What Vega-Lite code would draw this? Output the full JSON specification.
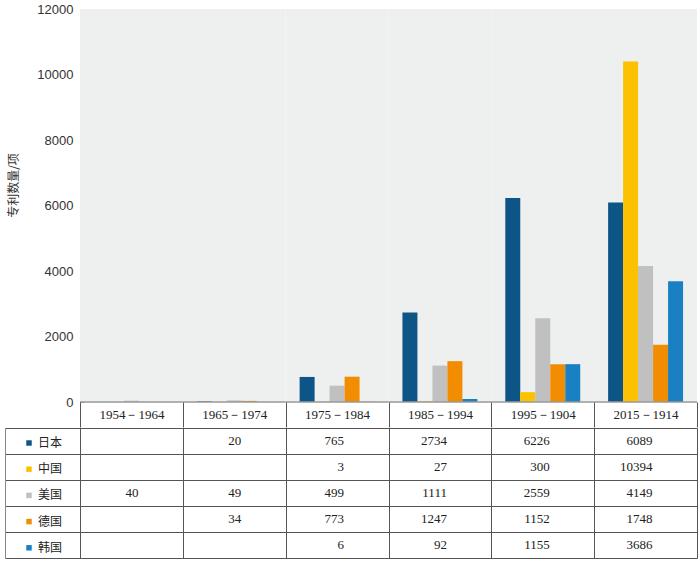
{
  "$schema": "https://vega.github.io/schema/vega-lite/v6.json",
  "padding": {"left": 5, "top": 3, "right": 5, "bottom": 5},
  "background": "white",
  "config": {"view": {"stroke": null}},
  "spacing": 0,
  "datasets": {
    "patents": [
      {"period": "1954－1964", "country": "美国", "value": 40},
      {"period": "1965－1974", "country": "日本", "value": 20},
      {"period": "1965－1974", "country": "美国", "value": 49},
      {"period": "1965－1974", "country": "德国", "value": 34},
      {"period": "1975－1984", "country": "日本", "value": 765},
      {"period": "1975－1984", "country": "中国", "value": 3},
      {"period": "1975－1984", "country": "美国", "value": 499},
      {"period": "1975－1984", "country": "德国", "value": 773},
      {"period": "1975－1984", "country": "韩国", "value": 6},
      {"period": "1985－1994", "country": "日本", "value": 2734},
      {"period": "1985－1994", "country": "中国", "value": 27},
      {"period": "1985－1994", "country": "美国", "value": 1111},
      {"period": "1985－1994", "country": "德国", "value": 1247},
      {"period": "1985－1994", "country": "韩国", "value": 92},
      {"period": "1995－1904", "country": "日本", "value": 6226},
      {"period": "1995－1904", "country": "中国", "value": 300},
      {"period": "1995－1904", "country": "美国", "value": 2559},
      {"period": "1995－1904", "country": "德国", "value": 1152},
      {"period": "1995－1904", "country": "韩国", "value": 1155},
      {"period": "2015－1914", "country": "日本", "value": 6089},
      {"period": "2015－1914", "country": "中国", "value": 10394},
      {"period": "2015－1914", "country": "美国", "value": 4149},
      {"period": "2015－1914", "country": "德国", "value": 1748},
      {"period": "2015－1914", "country": "韩国", "value": 3686}
    ]
  },
  "vconcat": [
    {
      "width": 692,
      "height": 393,
      "data": {"name": "patents"},
      "layer": [
        {
          "transform": [{"aggregate": [{"op": "count", "as": "n"}], "groupby": ["period"]}],
          "mark": {"type": "rect", "color": "#eef0ef"},
          "encoding": {
            "x": {"field": "period", "type": "nominal",
              "scale": {"domain": ["1954－1964", "1965－1974", "1975－1984", "1985－1994", "1995－1904", "2015－1914"], "paddingInner": 0, "paddingOuter": 0.36467, "align": 1},
              "axis": {"title": null, "domain": false, "ticks": true, "tickBand": "extent", "tickSize": 25, "tickColor": "#555", "tickWidth": 1, "labelAngle": 0, "labelPadding": -19, "labelFont": "Liberation Serif", "labelFontSize": 13, "labelColor": "#222"}},
            "y": {"datum": 0, "type": "quantitative"},
            "y2": {"datum": 12000}
          }
        },
        {
          "mark": {"type": "bar"},
          "encoding": {
            "x": {"field": "period", "type": "nominal"},
            "xOffset": {"field": "country", "type": "nominal",
              "scale": {"domain": ["日本", "中国", "美国", "德国", "韩国"], "paddingInner": 0, "paddingOuter": 0.93}},
            "y": {"field": "value", "type": "quantitative",
              "scale": {"domain": [0, 12000], "nice": false},
              "axis": {"title": "专利数量/项", "titleFont": "Noto Sans CJK SC", "titleFontSize": 12, "titleFontWeight": "normal", "titleColor": "#333", "titlePadding": 16, "titleY": 176,
                "offset": -75, "values": [0, 2000, 4000, 6000, 8000, 10000, 12000], "format": "d", "grid": false,
                "domainColor": "#666", "tickColor": "#888", "tickSize": -4, "labelPadding": 11,
                "labelFont": "Liberation Sans", "labelFontSize": 13, "labelColor": "#333"}},
            "color": {"field": "country", "type": "nominal",
              "scale": {"domain": ["日本", "中国", "美国", "德国", "韩国"], "range": ["#0d5587", "#fcc100", "#bfc0bf", "#f28c00", "#1a80c4"]},
              "legend": {"orient": "none", "legendX": 18, "legendY": 428, "title": null, "direction": "vertical",
                "symbolType": "square", "symbolSize": 30, "symbolStrokeWidth": 0, "labelOffset": 3,
                "labelFont": "Noto Sans CJK SC", "labelFontSize": 12, "labelColor": "#222", "rowPadding": 14.2}}
          }
        },
        {
          "transform": [{"aggregate": [{"op": "count", "as": "n"}], "groupby": ["period"]}],
          "mark": {"type": "rect", "fill": "transparent", "stroke": "#999", "strokeWidth": 1.5},
          "encoding": {
            "x": {"field": "period", "type": "nominal"},
            "y": {"datum": 0, "type": "quantitative"},
            "y2": {"datum": 0}
          }
        }
      ]
    },
    {
      "width": 692,
      "height": 130,
      "data": {"name": "patents"},
      "mark": {"type": "text", "font": "Liberation Serif", "fontSize": 13, "color": "#222", "align": "right", "dx": 7, "baseline": "middle"},
      "encoding": {
        "x": {"field": "period", "type": "nominal",
          "scale": {"domain": ["1954－1964", "1965－1974", "1975－1984", "1985－1994", "1995－1904", "2015－1914"], "paddingInner": 0, "paddingOuter": 0.36467, "align": 1},
          "axis": {"orient": "top", "title": null, "labels": false, "ticks": false, "domain": false, "grid": true, "tickBand": "extent", "gridColor": "#555", "gridWidth": 1}},
        "y": {"field": "country", "type": "nominal",
          "scale": {"domain": ["日本", "中国", "美国", "德国", "韩国"], "paddingInner": 0, "paddingOuter": 0},
          "axis": {"title": null, "labels": false, "ticks": false, "domain": true, "domainColor": "#888", "grid": true, "tickBand": "extent", "gridColor": "#555", "gridWidth": 1}},
        "text": {"field": "value", "type": "quantitative", "format": "d"}
      }
    }
  ]
}
